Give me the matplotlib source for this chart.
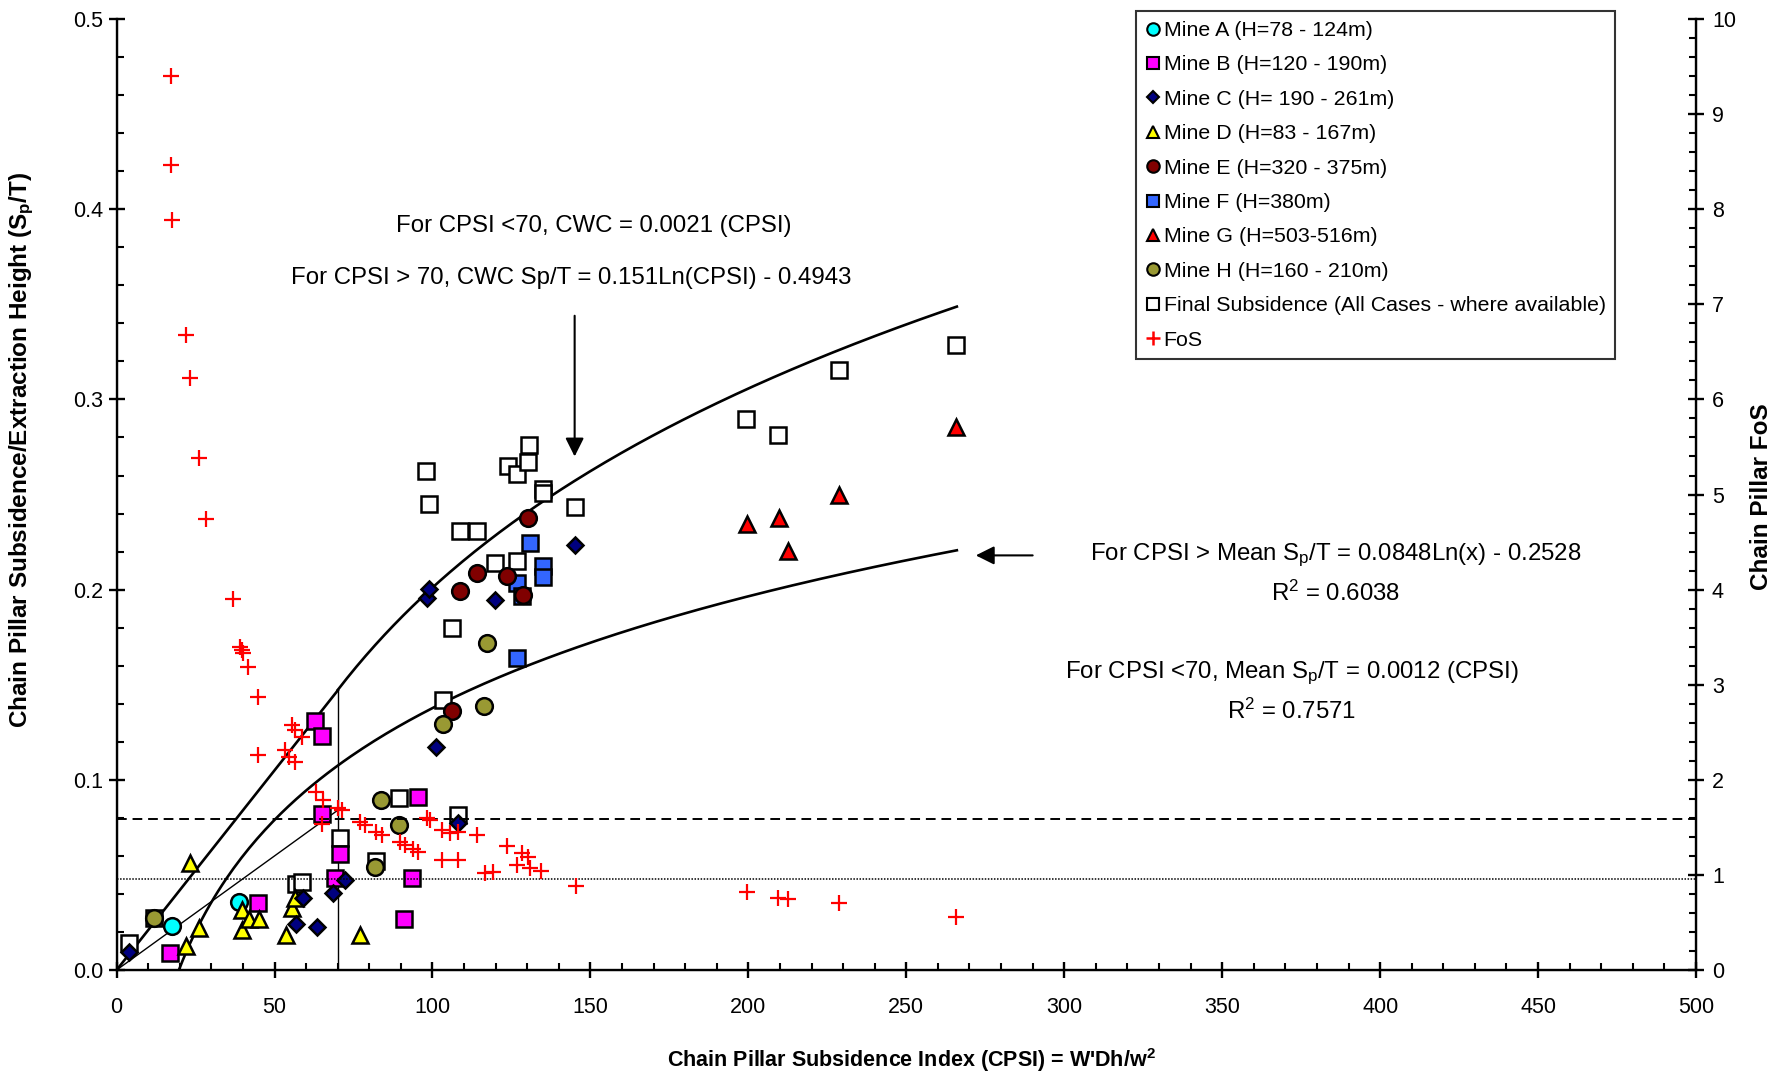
import matplotlib
matplotlib.use("Agg")
import numpy as np
import matplotlib.pyplot as plt
from matplotlib.lines import Line2D
from matplotlib.ticker import MultipleLocator, FormatStrFormatter

plt.rcParams["font.family"] = ["Liberation Sans", "DejaVu Sans"]
plt.rcParams["mathtext.fontset"] = "custom"
plt.rcParams["mathtext.rm"] = "Liberation Sans"
plt.rcParams["mathtext.it"] = "Liberation Sans:italic"
plt.rcParams["mathtext.bf"] = "Liberation Sans:bold"

# --- data (CPSI, Sp/T) ---
mine_a_x = [17.4, 38.7]
mine_a_y = [0.0233, 0.0359]

mine_b_x = [16.9, 44.9, 62.8, 64.9, 64.9, 69.1, 70.7, 91.0, 93.4, 95.5]
mine_b_y = [0.0088, 0.0354, 0.131, 0.123, 0.0819, 0.0485, 0.0608, 0.0268, 0.0482, 0.0911]

mine_c_x = [4.0, 56.8, 59.1, 63.3, 68.4, 72.3, 98.2, 99.0, 101.1, 108.2, 119.8, 145.1]
mine_c_y = [0.0096, 0.024, 0.0377, 0.0228, 0.0403, 0.0473, 0.1954, 0.2002, 0.1174, 0.0771, 0.1945, 0.2235]

mine_d_x = [22.0, 23.2, 26.2, 39.6, 39.6, 42.0, 45.2, 53.6, 55.4, 56.5, 77.0]
mine_d_y = [0.0128, 0.0561, 0.0223, 0.0315, 0.021, 0.027, 0.027, 0.0184, 0.0324, 0.0377, 0.0184]

mine_e_x = [106.1, 108.7, 114.0, 123.7, 128.5, 130.3]
mine_e_y = [0.1363, 0.1994, 0.2086, 0.2072, 0.197, 0.2375]

mine_f_x = [126.8, 126.8, 128.2, 130.9, 134.9, 134.9]
mine_f_y = [0.1639, 0.2033, 0.1968, 0.2243, 0.2124, 0.2065]

mine_g_x = [199.5, 209.7, 212.6, 228.8, 265.7]
mine_g_y = [0.2345, 0.2375, 0.2205, 0.2497, 0.2857]

mine_h_x = [11.8, 81.8, 83.6, 89.3, 103.2, 116.3, 117.3]
mine_h_y = [0.0272, 0.0543, 0.0894, 0.0765, 0.1293, 0.1388, 0.1718]

final_x = [4.0, 11.8, 56.8, 58.6, 70.7, 82.1, 89.5, 108.2, 103.2, 106.1, 97.9, 99.0,
           108.7, 114.0, 119.8, 126.6, 123.8, 126.6, 130.3, 130.6, 134.9, 134.9,
           145.1, 199.2, 209.5, 228.6, 265.7]
final_y = [0.0144, 0.0272, 0.0452, 0.0464, 0.0692, 0.0573, 0.0906, 0.0815, 0.142, 0.1796,
           0.2625, 0.245, 0.231, 0.2306, 0.214, 0.2152, 0.265, 0.261, 0.267, 0.276,
           0.2527, 0.251, 0.2433, 0.2897, 0.2813, 0.3154, 0.3286]

# chain pillar FoS (right axis)
fos_x = [17.1, 17.3, 17.6, 21.9, 23.3, 26.1, 28.3, 36.9, 39.0, 39.6, 40.1, 41.7,
         44.8, 44.9, 53.3, 54.7, 55.4, 56.5, 56.5, 58.6, 63.1, 64.9, 65.2, 70.2,
         71.3, 77.0, 78.6, 82.1, 83.9, 89.7, 91.3, 93.9, 95.5, 98.2, 99.2, 102.9,
         102.9, 105.5, 108.2, 108.2, 114.0, 116.6, 119.2, 123.5, 126.7, 128.2,
         130.3, 130.9, 134.4, 145.5, 199.5, 209.5, 212.6, 228.8, 265.7]
fos_y = [9.40, 8.46, 7.89, 6.68, 6.23, 5.38, 4.74, 3.90, 3.40, 3.36, 3.33, 3.19,
         2.87, 2.26, 2.31, 2.24, 2.58, 2.52, 2.19, 2.45, 1.875, 1.54, 1.79, 1.70,
         1.68, 1.56, 1.52, 1.45, 1.42, 1.35, 1.31, 1.27, 1.24, 1.595, 1.58, 1.47,
         1.157, 1.44, 1.45, 1.157, 1.42, 1.02, 1.03, 1.30, 1.10, 1.23,
         1.19, 1.07, 1.04, 0.88, 0.823, 0.754, 0.743, 0.708, 0.56]

# trend lines printed on the chart
CWC_LIN = 0.0021
CWC_A, CWC_B = 0.151, -0.4943
MEAN_LIN = 0.0012
MEAN_A, MEAN_B = 0.0848, -0.2528
CPSI_SPLIT = 70
CPSI_END = 266
FOS_DASHED = 1.59
FOS_DOTTED = 0.955

fig = plt.figure(figsize=(17.75, 10.76), dpi=100)
ax = fig.add_axes([0.0657, 0.0985, 0.8898, 0.8838])
ax2 = ax.twinx()

# curves
xa = np.array([0, CPSI_SPLIT])
ax.plot(xa, CWC_LIN * xa, color="k", lw=1.9, zorder=2)
xb = np.linspace(CPSI_SPLIT, CPSI_END, 200)
ax.plot(xb, CWC_A * np.log(xb) + CWC_B, color="k", lw=1.9, zorder=2)
xc = np.linspace(np.exp(-MEAN_B / MEAN_A), CPSI_END, 200)
ax.plot(xc, MEAN_A * np.log(xc) + MEAN_B, color="k", lw=1.9, zorder=2)
ax.plot(xa, MEAN_LIN * xa, color="k", lw=1.0, zorder=2)
ax.plot([CPSI_SPLIT, CPSI_SPLIT], [0, CWC_LIN * CPSI_SPLIT], color="k", lw=1.0, zorder=2)

mk = dict(linestyle="none", markeredgecolor="k", markeredgewidth=1.8)
ax.plot(final_x, final_y, marker="s", ms=11.5, mfc="white", zorder=3, **mk)
ax.plot(mine_a_x, mine_a_y, marker="o", ms=12, mfc="#00FFFF", zorder=4, **mk)
ax.plot(mine_b_x, mine_b_y, marker="s", ms=11.5, mfc="#FF00FF", zorder=4, **mk)
ax.plot(mine_d_x, mine_d_y, marker="^", ms=12, mfc="#FFFF00", zorder=4, **mk)
ax.plot(mine_f_x, mine_f_y, marker="s", ms=11.5, mfc="#3366FF", zorder=4, **mk)
ax.plot(mine_e_x, mine_e_y, marker="o", ms=12, mfc="#800000", zorder=5, **mk)
ax.plot(mine_g_x, mine_g_y, marker="^", ms=12, mfc="#FF0000", zorder=4, **mk)
ax.plot(mine_h_x, mine_h_y, marker="o", ms=12, mfc="#999933", zorder=5, **mk)
ax.plot(mine_c_x, mine_c_y, marker="D", ms=8, mfc="#000080", zorder=6, **mk)

# FoS
ax2.axhline(FOS_DASHED, color="k", lw=1.4, ls=(0, (5, 3)))
ax2.axhline(FOS_DOTTED, color="k", lw=1.1, ls=(0, (1, 1)))
ax2.plot(fos_x, fos_y, linestyle="none", marker="+", ms=11, mew=1.6, color="#FF0000")

# arrows and notes
arw = dict(arrowstyle="-|>", color="k", lw=1.5, mutation_scale=28, shrinkA=0, shrinkB=0)
ax.annotate("", xy=(145, 0.270), xytext=(145, 0.344), arrowprops=arw)
ax.annotate("", xy=(272, 0.218), xytext=(290, 0.218), arrowprops=arw)

fs = 17.3
ax.text(151, 0.391, "For CPSI <70, CWC = 0.0021 (CPSI)", fontsize=fs, ha="center", va="center")
ax.text(144, 0.364, "For CPSI > 70, CWC Sp/T = 0.151Ln(CPSI) - 0.4943", fontsize=fs,
        ha="center", va="center")
ax.text(386, 0.218, r"For CPSI > Mean S$_\mathregular{p}$/T = 0.0848Ln(x) - 0.2528",
        fontsize=fs, ha="center", va="center")
ax.text(386, 0.198, r"R$^\mathregular{2}$ = 0.6038", fontsize=fs, ha="center", va="center")
ax.text(372, 0.156, r"For CPSI <70, Mean S$_\mathregular{p}$/T = 0.0012 (CPSI)",
        fontsize=fs, ha="center", va="center")
ax.text(372, 0.136, r"R$^\mathregular{2}$ = 0.7571", fontsize=fs, ha="center", va="center")

# axes
ax.set_xlim(0, 500)
ax.set_ylim(0, 0.5)
ax2.set_ylim(0, 10)
ax.spines["top"].set_visible(False)
ax2.spines["top"].set_visible(False)
for s in ["left", "bottom"]:
    ax.spines[s].set_linewidth(1.7)
ax2.spines["right"].set_linewidth(1.7)

ax.xaxis.set_major_locator(MultipleLocator(50))
ax.xaxis.set_minor_locator(MultipleLocator(10))
ax.yaxis.set_major_locator(MultipleLocator(0.1))
ax.yaxis.set_minor_locator(MultipleLocator(0.02))
ax.yaxis.set_major_formatter(FormatStrFormatter("%.1f"))
ax2.yaxis.set_major_locator(MultipleLocator(1))
ax2.yaxis.set_minor_locator(MultipleLocator(0.2))

ax.tick_params(axis="both", which="major", direction="inout", length=11, width=1.7,
               labelsize=15.5)
ax.tick_params(axis="x", which="major", pad=14)
ax.tick_params(axis="y", which="major", pad=4)
ax.tick_params(axis="both", which="minor", direction="in", length=5, width=1.5)
ax2.tick_params(axis="y", which="major", direction="inout", length=11, width=1.7,
                labelsize=15.5, pad=6)
ax2.tick_params(axis="y", which="minor", direction="in", length=5, width=1.5)

ax.set_xlabel(r"Chain Pillar Subsidence Index (CPSI) = W'Dh/w$^\mathbf{2}$",
              fontsize=15.5, fontweight="bold")
ax.xaxis.set_label_coords(0.503, -0.080)
ax.set_ylabel(r"Chain Pillar Subsidence/Extraction Height ($\mathbf{S_p}$/T)",
              fontsize=17.5, fontweight="bold")
ax.yaxis.set_label_coords(-0.051, 0.547)
ax2.set_ylabel("Chain Pillar FoS", fontsize=17.5, fontweight="bold", rotation=90)
ax2.yaxis.set_label_coords(1.034, 0.498)

# legend
lk = dict(linestyle="none", markeredgecolor="k", markeredgewidth=1.5)
handles = [
    Line2D([], [], marker="o", ms=9, mfc="#00FFFF", **lk),
    Line2D([], [], marker="s", ms=9, mfc="#FF00FF", **lk),
    Line2D([], [], marker="D", ms=6.5, mfc="#000080", **lk),
    Line2D([], [], marker="^", ms=9, mfc="#FFFF00", **lk),
    Line2D([], [], marker="o", ms=9, mfc="#800000", **lk),
    Line2D([], [], marker="s", ms=9, mfc="#3366FF", **lk),
    Line2D([], [], marker="^", ms=9, mfc="#FF0000", **lk),
    Line2D([], [], marker="o", ms=9, mfc="#999933", **lk),
    Line2D([], [], marker="s", ms=9, mfc="white", **lk),
    Line2D([], [], marker="+", ms=10, mew=1.8, color="#FF0000", linestyle="none"),
]
labels = ["Mine A (H=78 - 124m)", "Mine B (H=120 - 190m)", "Mine C (H= 190 - 261m)",
          "Mine D (H=83 - 167m)", "Mine E (H=320 - 375m)", "Mine F (H=380m)",
          "Mine G (H=503-516m)", "Mine H (H=160 - 210m)",
          "Final Subsidence (All Cases - where available)", "FoS"]
leg = ax2.legend(handles, labels, loc="upper right", bbox_to_anchor=(0.949, 1.008),
                 borderaxespad=0, fontsize=15.4, frameon=True, fancybox=False,
                 edgecolor="k", handlelength=0.7, handletextpad=0.15,
                 labelspacing=0.72, borderpad=0.45)
leg.get_frame().set_linewidth(1.5)
leg.set_zorder(10)

fig.savefig("out.png", dpi=100)
